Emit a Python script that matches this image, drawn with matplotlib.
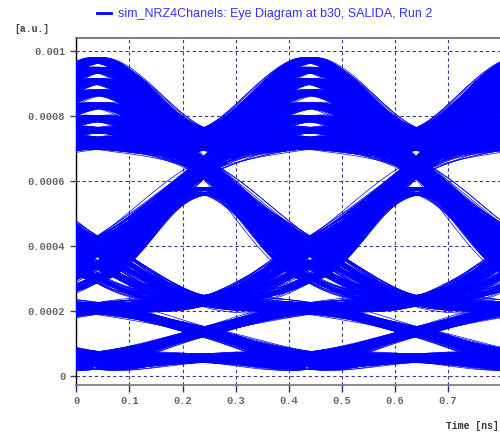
import numpy as np
import matplotlib
matplotlib.use('Agg')
import matplotlib.pyplot as plt
from matplotlib.collections import LineCollection
from matplotlib.lines import Line2D
from itertools import product

# eye levels in units of 1e-4 a.u.
# capital letters: at the bit centres t = 0.04 + 0.4k
lv_B = [0.27, 0.38, 0.5, 0.6, 0.66]
lv_L = [1.98, 2.07, 2.16]
lv_M = [3.0, 3.4, 3.8, 4.15]
lv_T = [7.05, 7.25, 7.55, 7.9, 8.3, 8.7, 9.05, 9.4, 9.7]
# small letters: half a period later, t = 0.24 + 0.4k
lv_b = [0.45, 0.55, 0.63]
lv_x = [1.25, 1.35, 1.45]
lv_l = [2.2, 2.3, 2.42]
lv_m = [5.6, 5.75]
lv_u = [6.2, 6.4, 6.6]
lv_t = [7.0, 7.15, 7.35, 7.55]

# level sequences seen in one period (prev, centre, half, centre, next)
paths = ['bBbBb', 'xBbBb', 'bBbBx',
         'bBxLl', 'bBxLx', 'lLxBb', 'xLxBb',
         'lLlLl', 'xLlLl', 'lLlLx',
         'lLlMu', 'xLlMm', 'uMlLl', 'mMlLx',
         'uMlMu', 'mMlMm', 'lMmMl', 'uMmMu',
         'lMuTt', 'mMuTu', 'tTuMl', 'uTuMm',
         'tTtTt', 'uTtTt', 'tTtTu']

jitter = [-0.008, 0.0, 0.008, -0.004, 0.004]     # ns
ripple = [-0.08, 0.04, -0.04, 0.08, 0.0, -0.06, 0.06]  # 1e-4 a.u.

t0 = 0.04      # first bit centre, ns
ui = 0.2       # half period, ns
period = 0.4

levels = {'B': lv_B, 'L': lv_L, 'M': lv_M, 'T': lv_T,
          'b': lv_b, 'x': lv_x, 'l': lv_l, 'm': lv_m, 'u': lv_u, 't': lv_t}


def cr(p0, p1, p2, p3, s):
    return 0.5 * (2 * p1 + (p2 - p0) * s + (2 * p0 - 5 * p1 + 4 * p2 - p3) * s ** 2
                  + (-p0 + 3 * p1 - 3 * p2 + p3) * s ** 3)


s = np.linspace(0, 1, 40)
segs = []
i = 0
for p in paths:
    pv = np.median(levels[p[0]])
    nv = np.median(levels[p[4]])
    for a, c, d in product(levels[p[1]], levels[p[2]], levels[p[3]]):
        r = ripple[i % len(ripple)]
        a2, d2 = a + r, d - r
        c2 = c + 0.5 * ripple[(i + 3) % len(ripple)]
        y = np.concatenate([cr(pv, a2, c2, d2, s), cr(a2, c2, d2, nv, s)[1:]])
        t = t0 + ui * np.concatenate([s, 1 + s[1:]]) + jitter[i % len(jitter)]
        i += 1
        for k in (-1, 0, 1):
            segs.append(np.column_stack([t + k * period, y * 1e-4]))

fig = plt.figure(figsize=(5, 4.33), dpi=100)
ax = fig.add_axes([0.1526, 0.1109, 0.8496, 0.8014])
ax.add_collection(LineCollection(segs, colors='#0000ff', linewidths=0.5, zorder=3))

ax.set_xlim(0, 0.8)
ax.set_ylim(-0.0000286, 0.001039)
xt = [0, 0.1, 0.2, 0.3, 0.4, 0.5, 0.6, 0.7]
yt = [0, 0.0002, 0.0004, 0.0006, 0.0008, 0.001]
ax.set_xticks(xt)
ax.set_xticklabels(['0', '0.1', '0.2', '0.3', '0.4', '0.5', '0.6', '0.7'])
ax.set_yticks(yt)
ax.set_yticklabels(['0', '0.0002', '0.0004', '0.0006', '0.0008', '0.001'])

mono = 'Liberation Mono'
for lab in ax.get_xticklabels() + ax.get_yticklabels():
    lab.set_fontfamily(mono)
    lab.set_fontsize(7.5)
    lab.set_fontweight('bold')
    lab.set_color('#666666')
ax.tick_params(axis='y', length=4, width=1, color='#444444', pad=4)
ax.tick_params(axis='x', length=5, width=1, color='#2a2a80', pad=3)

ax.set_axisbelow(True)
ax.grid(True, color='#3a3a85', linewidth=0.8, linestyle=(0, (3, 2.5)))

ax.spines['left'].set_color('black')
ax.spines['left'].set_linewidth(1)
ax.spines['bottom'].set_color('#777777')
ax.spines['bottom'].set_linewidth(1.2)
ax.spines['top'].set_color('#666666')
ax.spines['top'].set_linewidth(1.2)
ax.spines['right'].set_visible(False)

fig.text(14 / 500, 1 - 29 / 433, '[a.u.]', fontfamily=mono, fontsize=7,
         fontweight='bold', color='#444444', va='center')
fig.text(499 / 500, 1 - 426 / 433, 'Time [ns]', fontfamily=mono, fontsize=7,
         fontweight='bold', color='#333333', va='center', ha='right')

# series header
fig.add_artist(Line2D([97 / 500, 111 / 500], [1 - 13 / 433, 1 - 13 / 433],
                      color='#0000ff', linewidth=2))
fig.text(118 / 500, 1 - 13.5 / 433, 'sim_NRZ4Chanels: Eye Diagram at b30, SALIDA, Run 2',
         fontfamily='Liberation Sans', fontsize=9, color='#3333ff', va='center')

fig.savefig('out.png', dpi=100)
